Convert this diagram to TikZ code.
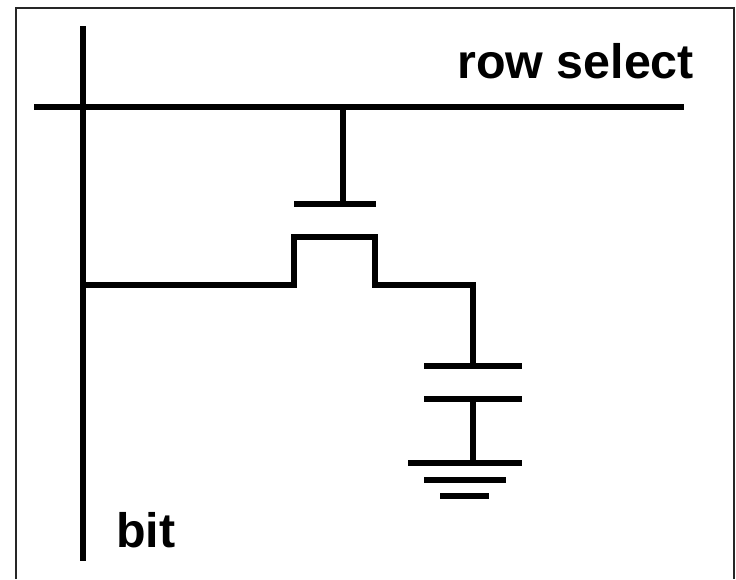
\documentclass[tikz,border=0pt]{standalone}
\usepackage{fontspec}
\setmainfont{Liberation Sans}
\usetikzlibrary{positioning}
\tikzset{
	wire/.style = {
		draw=black,
		line width=4.5pt
	},
	frame_line/.style = {
		draw=black!85,
		line width=1.5pt
	},
	node_label/.style = {
		inner sep=0pt,
		font=\fontsize{36.3}{40}\selectfont\bfseries,
		text=black,
		draw=none,
		anchor=base west
	},
}
\begin{document}
\begin{tikzpicture}[x=0.75pt,y=-0.75pt]
\useasboundingbox (0,0) rectangle (736,579);
% outline, open at the bottom
\coordinate (fb_l) at (16,579);
\coordinate (ft_l) at (16,8);
\coordinate (ft_r) at (734,8);
\coordinate (fb_r) at (734,579);
\draw [frame_line] (fb_l) -- (ft_l) -- (ft_r) -- (fb_r);
% bit and row lines
\coordinate (bit_t) at (83,26);
\coordinate (bit_b) at (83,561);
\coordinate (bit_j) at (83,285);
\coordinate (row_l) at (34,107);
\coordinate (row_r) at (684,107);
\coordinate (row_j) at (343,107);
\draw [wire] (bit_t) -- (bit_b);
\draw [wire] (row_l) -- (row_r);
% transistor
\coordinate (gate_j) at (343,204);
\coordinate (gate_l) at (294,204);
\coordinate (gate_r) at (376,204);
\coordinate (src) at (294,285);
\coordinate (src_t) at (294,237);
\coordinate (drn_t) at (375,237);
\coordinate (drn) at (375,285);
\coordinate (drn_j) at (473,285);
\coordinate (cap_a) at (473,366);
\draw [wire] (row_j) -- (gate_j);
\draw [wire] (gate_l) -- (gate_r);
\draw [wire] (bit_j) -- (src) -- (src_t) -- (drn_t) -- (drn) -- (drn_j) -- (cap_a);
% capacitor
\coordinate (cap_al) at (424,366);
\coordinate (cap_ar) at (522,366);
\coordinate (cap_b) at (473,399);
\coordinate (cap_bl) at (424,399);
\coordinate (cap_br) at (522,399);
\draw [wire] (cap_al) -- (cap_ar);
\draw [wire] (cap_bl) -- (cap_br);
% ground
\coordinate (gnd_j) at (473,463);
\coordinate (gnd_al) at (408,463);
\coordinate (gnd_ar) at (522,463);
\coordinate (gnd_bl) at (424,480);
\coordinate (gnd_br) at (506,480);
\coordinate (gnd_cl) at (440,496);
\coordinate (gnd_cr) at (489,496);
\draw [wire] (cap_b) -- (gnd_j);
\draw [wire] (gnd_al) -- (gnd_ar);
\draw [wire] (gnd_bl) -- (gnd_br);
\draw [wire] (gnd_cl) -- (gnd_cr);
% labels
\node [node_label] (row_label) at (457,78) {row select};
\node [node_label] (bit_label) at (116,547) {bit};
\end{tikzpicture}
\end{document}
